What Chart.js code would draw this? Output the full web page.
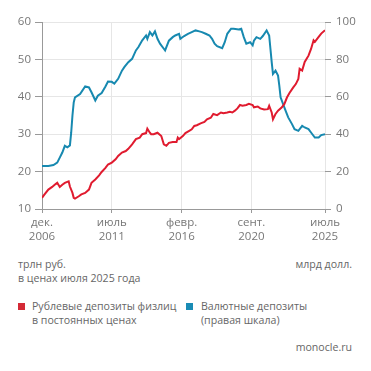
<!DOCTYPE html>
<html>
<head>
<meta charset="utf-8">
<script src="https://cdn.jsdelivr.net/npm/chart.js@4"></script>
<style>
  body { margin: 0; background: #fff; font-family: "Open Sans", sans-serif; color: #666; }
  #wrap { position: relative; width: 371px; height: 371px; }
  #depChart { position: absolute; left: 0; top: 0; }
  .note { position: absolute; font-size: 10.6px; line-height: 13.5px; white-space: nowrap; }
  .sq { position: absolute; width: 7px; height: 7px; }
</style>
</head>
<body>
<div id="wrap">
  <canvas id="depChart" width="371" height="250"></canvas>
  <div class="note" style="left:18px; top:258px;">трлн руб.<br>в ценах июля 2025 года</div>
  <div class="note" style="right:19px; top:258px;">млрд долл.</div>
  <div class="sq" style="left:18px; top:303px; background:#d42a36;"></div>
  <div class="note" style="left:32px; top:300px;">Рублевые депозиты физлиц<br>в постоянных ценах</div>
  <div class="sq" style="left:186px; top:303px; background:#1a8cb5;"></div>
  <div class="note" style="left:201px; top:300px;">Валютные депозиты<br>(правая шкала)</div>
  <div class="note" style="right:19px; top:341px;">monocle.ru</div>
</div>
<script>
// months counted from Dec 2006 (0) to Jul 2025 (223)
var tickMonths = [0, 55, 110, 165, 223];
var tickLabels = [['дек.', '2006'], ['июль', '2011'], ['февр.', '2016'], ['сент.', '2020'], ['июль', '2025']];

// ruble deposits, trn rub in July 2025 prices (left axis)
var rubMonths = [0, 2, 5, 8, 10, 12, 14, 16, 18, 21, 22, 24, 25, 26, 29, 31, 34, 37, 39, 42,
  45, 47, 50, 52, 55, 58, 60, 63, 66, 68, 71, 74, 77, 79, 82, 83, 85, 86, 88, 91,
  94, 96, 98, 100, 103, 106, 107, 108, 111, 113, 116, 118, 120, 122, 125, 128, 130, 133, 135, 138,
  141, 143, 146, 148, 150, 152, 154, 156, 158, 161, 163, 166, 167, 170, 172, 175, 178, 179, 181, 182,
  184, 186, 189, 191, 193, 195, 198, 200, 202, 203, 205, 207, 210, 212, 214, 215, 218, 220, 223];
var rubValues = [13.0, 13.9, 15.2, 15.9, 16.5, 17.0, 15.9, 16.5, 17.0, 17.4, 16.0, 14.3, 13.0, 12.8, 13.4, 13.9, 14.3, 15.2, 17.0, 17.9,
  19.0, 19.9, 21.0, 21.9, 22.4, 23.3, 24.2, 25.1, 25.5, 26.1, 27.3, 28.7, 29.1, 30.0, 30.3, 31.5, 30.4, 30.0, 30.0, 30.4,
  29.5, 27.3, 26.9, 27.7, 27.9, 27.9, 29.1, 28.7, 29.5, 30.3, 30.9, 31.3, 32.2, 32.4, 32.9, 33.3, 34.0, 34.4, 35.4, 35.1,
  35.8, 35.6, 35.8, 36.0, 35.8, 36.3, 36.9, 37.8, 37.6, 37.8, 38.1, 37.8, 37.2, 37.4, 36.9, 36.6, 36.7, 37.6, 35.8, 34.0,
  35.4, 36.3, 37.2, 38.1, 39.8, 41.0, 42.5, 43.4, 44.8, 47.5, 47.0, 49.3, 51.0, 52.8, 55.1, 54.7, 56.0, 56.9, 57.8];

// FX deposits, bn USD (right axis)
var fxMonths = [0, 5, 9, 12, 14, 16, 18, 20, 22, 23, 24, 25, 26, 30, 34, 37, 39, 42, 44, 47,
  50, 52, 55, 57, 60, 63, 65, 68, 71, 74, 76, 79, 82, 83, 85, 87, 89, 91, 93, 96,
  97, 100, 103, 105, 108, 109, 112, 115, 118, 121, 124, 126, 129, 132, 134, 136, 138, 142, 144, 146,
  149, 151, 155, 157, 159, 161, 164, 166, 167, 169, 172, 174, 177, 179, 180, 181, 182, 184, 186, 187,
  188, 190, 192, 194, 197, 199, 202, 205, 207, 210, 212, 215, 218, 220, 223];
var fxValues = [23.0, 23.0, 23.5, 24.8, 27.5, 30.2, 33.8, 33.0, 34.0, 40.8, 50.0, 57.0, 59.7, 61.5, 65.6, 65.0, 62.4, 58.0, 60.6, 62.0,
  65.5, 68.2, 68.0, 67.0, 69.6, 74.0, 76.0, 78.5, 80.3, 84.8, 86.6, 90.2, 92.8, 91.0, 94.6, 92.8, 95.0, 91.0, 88.4, 85.7,
  84.8, 90.0, 91.9, 92.8, 93.7, 91.0, 92.5, 93.7, 94.6, 95.5, 95.0, 94.6, 93.7, 92.8, 91.0, 88.4, 87.1, 86.0, 89.2, 93.7,
  96.4, 96.4, 96.0, 96.4, 91.9, 88.4, 89.2, 87.5, 90.0, 91.9, 91.0, 92.5, 95.5, 92.8, 85.7, 78.5, 72.2, 74.0, 71.3, 66.0,
  59.7, 56.1, 52.5, 49.0, 45.4, 42.7, 41.8, 44.5, 43.6, 42.7, 40.9, 38.2, 38.2, 39.5, 40.0];

function toPoints(xs, ys) {
    return xs.map(function (x, i) { return { x: x, y: ys[i] }; });
}

var tickFont = { family: 'Open Sans', size: 11.5 };
var ctx = document.getElementById('depChart').getContext('2d');
var depChart = new Chart(ctx, {
    type: 'line',
    data: {
        datasets: [{
            label: 'Рублевые депозиты физлиц в постоянных ценах',
            data: toPoints(rubMonths, rubValues),
            borderColor: '#e01b2f',
            borderWidth: 2,
            pointRadius: 0,
            yAxisID: 'y'
        }, {
            label: 'Валютные депозиты (правая шкала)',
            data: toPoints(fxMonths, fxValues),
            borderColor: '#1789b0',
            borderWidth: 2,
            pointRadius: 0,
            yAxisID: 'y2'
        }]
    },
    options: {
        responsive: false,
        animation: false,
        layout: { padding: { top: 22, left: 0, right: 0, bottom: 0 } },
        plugins: { legend: { display: false }, tooltip: { enabled: false } },
        scales: {
            x: {
                type: 'linear',
                min: 0,
                max: 223,
                afterBuildTicks: function (scale) {
                    scale.ticks = tickMonths.map(function (m) { return { value: m }; });
                },
                afterFit: function (scale) { scale.height = 41; },
                grid: { color: '#e6e6e6', tickColor: '#999', tickLength: 4 },
                border: { color: '#999' },
                ticks: {
                    autoSkip: false,
                    maxRotation: 0,
                    padding: 3,
                    color: '#777',
                    font: tickFont,
                    callback: function (value) {
                        var i = tickMonths.indexOf(value);
                        return i >= 0 ? tickLabels[i] : '';
                    }
                }
            },
            y: {
                position: 'left',
                min: 10,
                max: 60,
                afterFit: function (scale) { scale.width = 42; },
                grid: { color: '#e6e6e6', tickColor: '#999', tickLength: 7 },
                border: { color: '#999' },
                ticks: { stepSize: 10, padding: 4, color: '#777', font: tickFont }
            },
            y2: {
                position: 'right',
                min: 0,
                max: 100,
                afterFit: function (scale) { scale.width = 46; },
                grid: { drawOnChartArea: false, tickColor: '#999', tickLength: 6 },
                border: { display: false },
                ticks: { stepSize: 20, padding: 5, color: '#777', font: tickFont }
            }
        }
    }
});
</script>
</body>
</html>
